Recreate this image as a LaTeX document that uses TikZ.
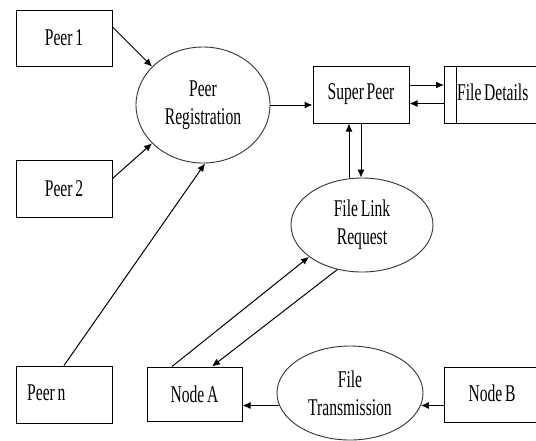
\documentclass[tikz,border=0pt]{standalone}
\usepackage{fontspec}
\setmainfont{Liberation Serif}[FakeStretch=0.65,WordSpace=0.7]
\usetikzlibrary{shapes.geometric,arrows.meta,calc}
\tikzset{
  box/.style={draw, line width=1pt, inner sep=0pt},
  oval/.style={draw=black!80, line width=0.9pt, ellipse, inner sep=0pt, align=center},
  arr/.style={-{Latex[length=8pt,width=7pt]}, line width=1pt},
  every node/.style={font=\fontsize{24}{28}\selectfont}
}
\begin{document}
\begin{tikzpicture}[x=1pt,y=-1pt]
\useasboundingbox (0,0) rectangle (536,440);
\clip (0,0) rectangle (536,440);
% boxes
\node[box, minimum width=96, minimum height=56] (p1) at (64,38) {Peer 1};
\node[box, minimum width=96, minimum height=57] (p2) at (64,188.5) {Peer 2};
\node[box, minimum width=96, minimum height=57] (pn) at (64,394.5) {};
\node[anchor=west, inner sep=0pt] (pnt) at (27,393) {Peer n};
\node[box, minimum width=95, minimum height=54] (na) at (194.5,394) {Node A};
\node[box, minimum width=96, minimum height=57] (sp) at (361,94.5) {Super Peer};
\node[box, minimum width=156, minimum height=57, anchor=north west] (fd) at (444,66) {};
\draw[line width=1pt] ($(fd.north west)+(12,0)$) coordinate (fdl) -- (fdl |- fd.south);
\node[anchor=west, inner sep=0pt] (fdt) at (457,92) {File Details};
\node[box, minimum width=156, minimum height=55, anchor=north west] (nb) at (444,367) {};
\node[inner sep=0pt] (nbt) at (492,393) {Node B};
% ellipses
\node[oval, minimum width=134, minimum height=116] (preg) at (203,105) {Peer\\Registration};
\node[oval, minimum width=142, minimum height=94] (flr) at (362,225) {File Link\\Request};
\node[oval, minimum width=146, minimum height=94] (ft) at (350,393) {File\\Transmission};
% connectors
\draw[arr] ($(p1.east)+(0,-11)$) -- (preg.143);
\draw[arr] ($(p2.east)+(0,-10)$) -- (preg.217);
\draw[arr] (pn.north) -- (preg.272);
\draw[arr] (preg.east) -- (preg.east -| sp.west);
\draw[arr] ($(sp.east)+(0,-9.5)$) coordinate (s1) -- (s1 -| fd.west);
\draw[arr] ($(fd.west)+(0,8.5)$) coordinate (f1) -- (f1 -| sp.east);
\coordinate (u) at ($(sp.south)+(-12,0)$);
\draw[arr] (u |- flr.north) -- (u);
\draw[arr] (sp.south) -- (sp.south |- flr.north);
\draw[arr] ($(na.north)+(-22.5,0)$) -- (flr.211);
\draw[arr] (flr.241) -- ($(na.north)+(17.5,0)$);
\draw[arr] (nb.west |- ft.350) -- (ft.350);
\draw[arr] (ft.190) -- (ft.190 -| na.east);
\end{tikzpicture}
\end{document}
